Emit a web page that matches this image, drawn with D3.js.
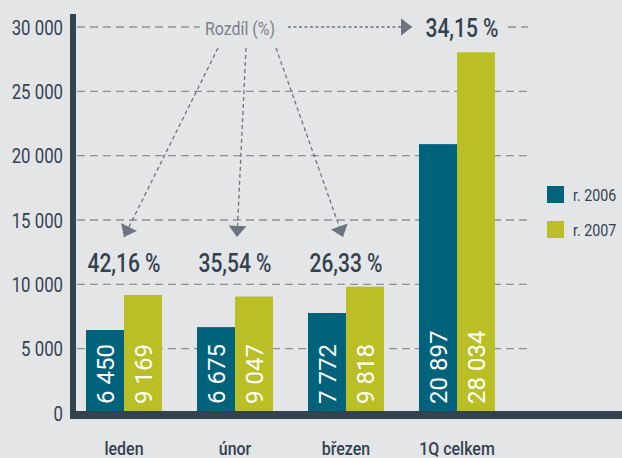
<!DOCTYPE html>
<html>
<head>
<meta charset="utf-8">
<script src="https://cdn.jsdelivr.net/npm/d3@7"></script>
<style>
  body { margin: 0; background: #e4e5e7; }
  svg { display: block; }
  text { font-family: Roboto, "Noto Sans", sans-serif; }
</style>
</head>
<body>
<div id="chart"></div>
<script>
// data
var categories = ['leden', 'únor', 'březen', '1Q celkem'];
var years = ['r. 2006', 'r. 2007'];
var values2006 = [6450, 6675, 7772, 20897];
var values2007 = [9169, 9047, 9818, 28034];
var differences = ['42,16 %', '35,54 %', '26,33 %', '34,15 %'];
var yTicks = [0, 5000, 10000, 15000, 20000, 25000, 30000];
var colors = ['#00637b', '#b9bf25'];

var width = 622, height = 458;
var dark = '#33424f', arrowGrey = '#6e7380';
var squeeze = 0.84; // no condensed font installed, so narrow Roboto by hand

var svg = d3.select('#chart')
  .append('svg')
  .attr('width', width)
  .attr('height', height);

svg.append('rect')
  .attr('width', width)
  .attr('height', height)
  .attr('fill', '#e4e5e7');

var y = d3.scaleLinear().domain([0, 30000]).range([413, 27]);

var x0 = d3.scaleBand()
  .domain(categories)
  .range([68.5, 512.5])
  .paddingInner(0.315)
  .paddingOuter(0.1575);

var x1 = d3.scaleBand()
  .domain(years)
  .range([0, x0.bandwidth()]);

var fmt = function (d) { return d3.format(',')(d).replace(/,/g, ' '); };

function place(fx, fy) {
  return function (d, i) {
    var px = typeof fx === 'function' ? fx(d, i) : fx;
    var py = typeof fy === 'function' ? fy(d, i) : fy;
    return 'translate(' + px + ',' + py + ') scale(' + squeeze + ',1)';
  };
}

// arrowhead
var defs = svg.append('defs');
defs.append('marker')
  .attr('id', 'arrow')
  .attr('markerUnits', 'userSpaceOnUse')
  .attr('markerWidth', 14)
  .attr('markerHeight', 20)
  .attr('viewBox', '0 -9 12 18')
  .attr('refX', 10)
  .attr('refY', 0)
  .attr('orient', 'auto')
  .append('path')
  .attr('d', 'M0,-8L10,0L0,8Z')
  .attr('fill', arrowGrey);

// gridlines
var grid = svg.append('g')
  .attr('stroke', '#8e9095')
  .attr('stroke-width', 1.3)
  .attr('stroke-dasharray', '8,5');

grid.selectAll('line')
  .data(yTicks.filter(function (d) { return d > 0 && d < 30000; }))
  .enter()
  .append('line')
  .attr('x1', 77)
  .attr('x2', 528)
  .attr('y1', function (d) { return y(d); })
  .attr('y2', function (d) { return y(d); });

// top gridline is split by the annotation
grid.selectAll('line.top')
  .data([[77, 200], [508, 528]])
  .enter()
  .append('line')
  .attr('class', 'top')
  .attr('x1', function (d) { return d[0]; })
  .attr('x2', function (d) { return d[1]; })
  .attr('y1', y(30000))
  .attr('y2', y(30000));

// bars
var rows = categories.map(function (c, i) {
  return { cat: c, vals: [values2006[i], values2007[i]] };
});

var groups = svg.append('g')
  .selectAll('g')
  .data(rows)
  .enter()
  .append('g')
  .attr('transform', function (d) { return 'translate(' + x0(d.cat) + ',0)'; });

groups.selectAll('rect')
  .data(function (d) { return d.vals.map(function (v, j) { return { year: years[j], v: v, j: j }; }); })
  .enter()
  .append('rect')
  .attr('x', function (d) { return x1(d.year); })
  .attr('width', x1.bandwidth())
  .attr('y', function (d) { return y(d.v); })
  .attr('height', function (d) { return y(0) - y(d.v); })
  .attr('fill', function (d) { return colors[d.j]; });

groups.selectAll('text')
  .data(function (d) { return d.vals.map(function (v, j) { return { year: years[j], v: v }; }); })
  .enter()
  .append('text')
  .attr('transform', function (d) {
    return 'translate(' + (x1(d.year) + x1.bandwidth() / 2) + ',' + 404 + ') rotate(-90)';
  })
  .attr('dy', '0.36em')
  .attr('fill', '#ffffff')
  .attr('font-size', 24)
  .text(function (d) { return fmt(d.v); });

// axes
svg.append('rect')
  .attr('x', 70).attr('y', 14)
  .attr('width', 6).attr('height', 405)
  .attr('fill', dark);
svg.append('rect')
  .attr('x', 70).attr('y', 411)
  .attr('width', width - 70).attr('height', 8)
  .attr('fill', dark);

svg.append('g')
  .selectAll('text')
  .data(yTicks)
  .enter()
  .append('text')
  .attr('transform', place(63, function (d) { return y(d) + 7.5; }))
  .attr('text-anchor', 'end')
  .attr('font-size', 20)
  .attr('fill', dark)
  .text(fmt);

svg.append('g')
  .selectAll('text')
  .data(categories)
  .enter()
  .append('text')
  .attr('transform', place(function (d) { return x0(d) + x0.bandwidth() / 2; }, 455))
  .attr('text-anchor', 'middle')
  .attr('font-size', 19)
  .attr('font-weight', 500)
  .attr('fill', dark)
  .text(function (d) { return d; });

// difference labels
svg.append('g')
  .selectAll('text')
  .data(differences)
  .enter()
  .append('text')
  .attr('transform', place(
    function (d, i) { return x0(categories[i]) + x0.bandwidth() / 2 + (i === 3 ? 5 : 0); },
    function (d, i) { return i === 3 ? 37 : 272; }))
  .attr('text-anchor', 'middle')
  .attr('font-size', 25)
  .attr('font-weight', 500)
  .attr('fill', dark)
  .text(function (d) { return d; });

// "Rozdíl (%)" annotation with arrows
var labelX = 240;
svg.append('text')
  .attr('transform', place(labelX, 35))
  .attr('text-anchor', 'middle')
  .attr('font-size', 19)
  .attr('fill', '#7b808c')
  .text('Rozdíl (%)');

var starts = [-22, 6, 36];
var tipShift = [0, 2, -3];
svg.append('g')
  .selectAll('line')
  .data(categories.slice(0, 3))
  .enter()
  .append('line')
  .attr('x1', function (d, i) { return labelX + starts[i]; })
  .attr('y1', 48)
  .attr('x2', function (d, i) { return x0(d) + x0.bandwidth() / 2 + tipShift[i]; })
  .attr('y2', 237)
  .attr('stroke', arrowGrey)
  .attr('stroke-width', 1.3)
  .attr('stroke-dasharray', '4,3')
  .attr('marker-end', 'url(#arrow)');

svg.append('line')
  .attr('x1', 288)
  .attr('x2', 412)
  .attr('y1', y(30000))
  .attr('y2', y(30000))
  .attr('stroke', arrowGrey)
  .attr('stroke-width', 1.3)
  .attr('stroke-dasharray', '3,2.5')
  .attr('marker-end', 'url(#arrow)');

// legend
var legend = svg.append('g')
  .selectAll('g')
  .data(years)
  .enter()
  .append('g')
  .attr('transform', function (d, i) { return 'translate(547,' + (186 + i * 35) + ')'; });

legend.append('rect')
  .attr('width', 17)
  .attr('height', 17)
  .attr('fill', function (d, i) { return colors[i]; });

legend.append('text')
  .attr('transform', place(26, 14.5))
  .attr('font-size', 17)
  .attr('fill', dark)
  .text(function (d) { return d; });
</script>
</body>
</html>
